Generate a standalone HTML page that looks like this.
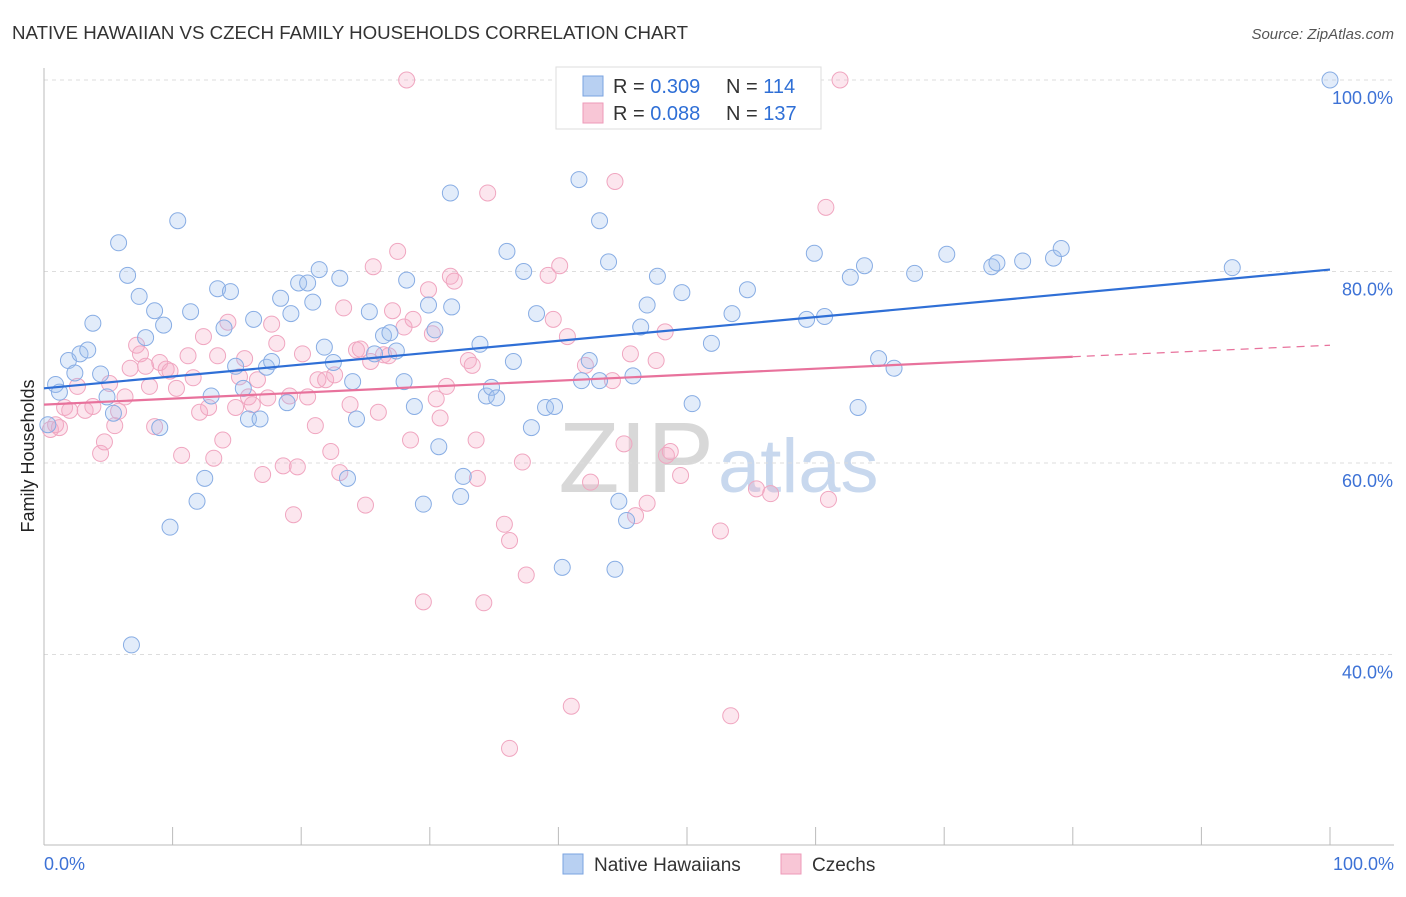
<!DOCTYPE html>
<html><head><meta charset="utf-8">
<style>
body{margin:0;background:#fff;font-family:"Liberation Sans",sans-serif;}
svg text{font-family:"Liberation Sans",sans-serif;}
</style></head>
<body>
<svg id="chart" width="1406" height="892" viewBox="0 0 1406 892">
<text x="12" y="39" font-size="18" fill="#333" textLength="676" lengthAdjust="spacingAndGlyphs">NATIVE HAWAIIAN VS CZECH FAMILY HOUSEHOLDS CORRELATION CHART</text>
<text x="1394" y="39" font-size="15" fill="#555" font-style="italic" text-anchor="end">Source: ZipAtlas.com</text>
<text x="714" y="492" font-size="100" fill="#d8d8d8" text-anchor="end" font-family="Liberation Serif">ZIP</text>
<text x="718" y="492" font-size="76" fill="#c8d8ee">atlas</text>
<g id="grid"></g>
<g id="axes"></g>
<g id="points"></g>
<g id="lines"></g>
<text transform="translate(34,456) rotate(-90)" font-size="18" fill="#222" text-anchor="middle">Family Households</text>
<g>
<rect x="556" y="67" width="265" height="62" fill="#fff" stroke="#ddd"/>
<rect x="583" y="76" width="20" height="20" fill="#b8d0f2" stroke="#7aa3e0"/>
<text x="613" y="93" font-size="20" fill="#333">R = <tspan fill="#2f6fd6">0.309</tspan></text>
<text x="726" y="93" font-size="20" fill="#333">N = <tspan fill="#2f6fd6">114</tspan></text>
<rect x="583" y="103" width="20" height="20" fill="#f8c6d6" stroke="#ee9ab8"/>
<text x="613" y="120" font-size="20" fill="#333">R = <tspan fill="#2f6fd6">0.088</tspan></text>
<text x="726" y="120" font-size="20" fill="#333">N = <tspan fill="#2f6fd6">137</tspan></text>
</g>
<g>
<rect x="563" y="854" width="20" height="20" fill="#b8d0f2" stroke="#7aa3e0"/>
<text x="594" y="871" font-size="19" fill="#333">Native Hawaiians</text>
<rect x="781" y="854" width="20" height="20" fill="#f8c6d6" stroke="#ee9ab8"/>
<text x="812" y="871" font-size="19" fill="#333">Czechs</text>
</g>
</svg>
<script>
const yTicks=[40,60,80,100];
const yTickLabels=["40.0%","60.0%","80.0%","100.0%"];
const xTickLabels=["0.0%","100.0%"];
const blueX=[0.9,1.2,1.9,2.4,2.8,3.4,3.8,4.4,4.9,5.4,5.8,6.5,7.4,7.9,8.6,9.0,9.3,9.8,10.4,11.4,11.9,12.5,13.0,13.5,14.0,14.5,14.9,15.5,15.9,16.3,16.8,17.3,17.7,18.4,18.9,19.2,19.8,20.5,20.9,21.4,21.8,22.5,23.0,23.6,24.0,24.3,25.3,25.7,26.4,26.9,27.4,28.0,28.2,28.8,29.5,29.9,30.4,30.7,31.6,31.7,32.4,32.6,33.9,34.4,34.8,35.2,36.0,36.5,37.3,37.9,38.3,39.0,39.7,40.3,41.6,41.8,42.4,43.2,43.2,43.9,44.7,45.3,45.8,44.4,46.4,46.9,47.7,49.6,50.4,51.9,53.5,54.7,59.3,59.9,60.7,62.7,63.3,63.8,64.9,66.1,67.7,70.2,73.7,74.1,76.1,78.5,79.1,92.4,100,6.8,0.3];
const blueY=[68.2,67.4,70.7,69.4,71.4,71.8,74.6,69.3,66.9,65.2,83.0,79.6,77.4,73.1,75.9,63.7,74.4,53.3,85.3,75.8,56.0,58.4,67.0,78.2,74.1,77.9,70.1,67.8,64.6,75.0,64.6,70.0,70.6,77.2,66.3,75.6,78.8,78.8,76.8,80.2,72.1,70.5,79.3,58.4,68.5,64.6,75.8,71.4,73.3,73.6,71.7,68.5,79.1,65.9,55.7,76.5,73.9,61.7,88.2,76.3,56.5,58.6,72.4,67.0,67.9,66.8,82.1,70.6,80.0,63.7,75.6,65.8,65.9,49.1,89.6,68.6,70.7,68.6,85.3,81.0,56.0,54.0,69.1,48.9,74.2,76.5,79.5,77.8,66.2,72.5,75.6,78.1,75.0,81.9,75.3,79.4,65.8,80.6,70.9,69.9,79.8,81.8,80.5,80.9,81.1,81.4,82.4,80.4,100,41.0,64.0];
const pinkX=[0.5,0.9,1.2,1.6,2.0,2.6,3.2,3.8,4.4,4.7,5.1,5.5,5.8,6.3,6.7,7.2,7.5,7.9,8.2,8.6,9.0,9.5,9.8,10.3,10.7,11.2,11.6,12.1,12.4,12.8,13.2,13.5,13.9,14.3,14.9,15.2,15.6,15.9,16.2,16.6,17.0,17.4,17.7,18.1,18.6,19.1,19.4,19.7,20.1,20.5,21.1,21.3,21.9,22.3,22.6,23.0,23.3,23.8,24.3,24.6,25.0,25.4,25.6,26.0,26.4,26.8,27.1,27.5,28.0,28.2,28.5,28.7,29.5,29.9,30.2,30.5,30.8,31.3,31.6,31.9,33.0,33.3,33.6,33.7,34.2,34.5,35.8,36.2,36.2,37.2,37.5,39.2,39.6,40.1,40.7,41.0,42.1,42.5,44.2,44.4,45.1,45.6,46.0,46.9,47.6,48.3,48.4,48.7,49.5,52.6,53.4,55.4,56.5,60.8,61.0,61.9,41.5,48.7];
const pinkY=[63.5,64.0,63.7,65.8,65.5,68.0,65.5,65.9,61.0,62.2,68.3,63.9,65.4,66.9,69.9,72.3,71.4,70.1,68.0,63.8,70.5,69.8,69.6,67.8,60.8,71.2,68.9,65.3,73.2,65.8,60.5,71.2,62.4,74.7,65.8,69.0,70.9,66.9,66.1,68.7,58.8,66.8,74.5,72.5,59.7,67.0,54.6,59.6,71.4,66.9,63.9,68.7,68.7,61.2,69.2,59.0,76.2,66.1,71.8,71.9,55.6,70.6,80.5,65.3,71.3,71.2,75.9,82.1,74.2,100,62.4,75.0,45.5,78.1,73.5,66.7,64.7,68.0,79.5,79.0,70.7,70.2,62.4,58.4,45.4,88.2,53.6,51.9,30.2,60.1,48.3,79.6,75.0,80.6,73.2,34.6,70.2,58.0,68.6,89.4,62.0,71.4,54.5,55.8,70.7,73.7,60.8,61.2,58.7,52.9,33.6,57.3,56.8,86.7,56.2,100,100,100];
const blueTrend=[67.8,80.2];
const pinkTrend=[66.1,71.1,72.3];
const pinkSolidEnd=80;

const NS="http://www.w3.org/2000/svg";
const X0=44,X1=1330,YBOT=845;
function sx(v){return X0+(X1-X0)*v/100;}
function sy(v){return 1037.5-v*9.575;}
function mk(tag,attrs,parent){const e=document.createElementNS(NS,tag);for(const k in attrs)e.setAttribute(k,attrs[k]);parent.appendChild(e);return e;}
const grid=document.getElementById('grid'),axes=document.getElementById('axes'),pts=document.getElementById('points'),lines=document.getElementById('lines');
yTicks.forEach((t,i)=>{
  const l=mk('line',{x1:X0,x2:1394,y1:sy(t),y2:sy(t),stroke:'#ddd','stroke-dasharray':'4,4'},grid);
  
  
  const tx=mk('text',{x:1393,y:sy(t)+24,'font-size':18,fill:'#3d72d6','text-anchor':'end'},axes);
  tx.textContent=yTickLabels[i];
  
  
});
const ya=mk('line',{x1:X0,x2:X0,y1:68,y2:YBOT,stroke:'#bbb'},axes);


const xa=mk('line',{x1:X0,x2:1394,y1:YBOT,y2:YBOT,stroke:'#bbb'},axes);


for(let i=0;i<=10;i++){
  const t=mk('line',{x1:sx(i*10),x2:sx(i*10),y1:827,y2:YBOT,stroke:'#bbb'},axes);
  
  
}
const xl0=mk('text',{x:44,y:870,'font-size':18,fill:'#3d72d6'},axes);xl0.textContent=xTickLabels[0];


const xl1=mk('text',{x:1394,y:870,'font-size':18,fill:'#3d72d6','text-anchor':'end'},axes);xl1.textContent=xTickLabels[1];


function dots(xs,ys,fill,stroke,name){
  xs.forEach((v,i)=>{
    const c=mk('circle',{cx:sx(v),cy:sy(ys[i]),r:8,fill:fill,stroke:stroke,'stroke-width':1},pts);
    
    
  });
}
dots(pinkX,pinkY,'rgba(246,172,198,0.3)','#f0a6c0','czech-point');
dots(blueX,blueY,'rgba(160,192,238,0.3)','#88ade4','native-hawaiian-point');
const bl=mk('line',{x1:sx(0),y1:sy(blueTrend[0]),x2:sx(100),y2:sy(blueTrend[1]),stroke:'#2f6fd6','stroke-width':2.2},lines);


const pl=mk('line',{x1:sx(0),y1:sy(pinkTrend[0]),x2:sx(pinkSolidEnd),y2:sy(pinkTrend[1]),stroke:'#e8729c','stroke-width':2.2},lines);


const pd=mk('line',{x1:sx(pinkSolidEnd),y1:sy(pinkTrend[1]),x2:sx(100),y2:sy(pinkTrend[2]),stroke:'#e8729c','stroke-width':1.2,'stroke-dasharray':'8,6'},lines);


</script>
</body></html>
